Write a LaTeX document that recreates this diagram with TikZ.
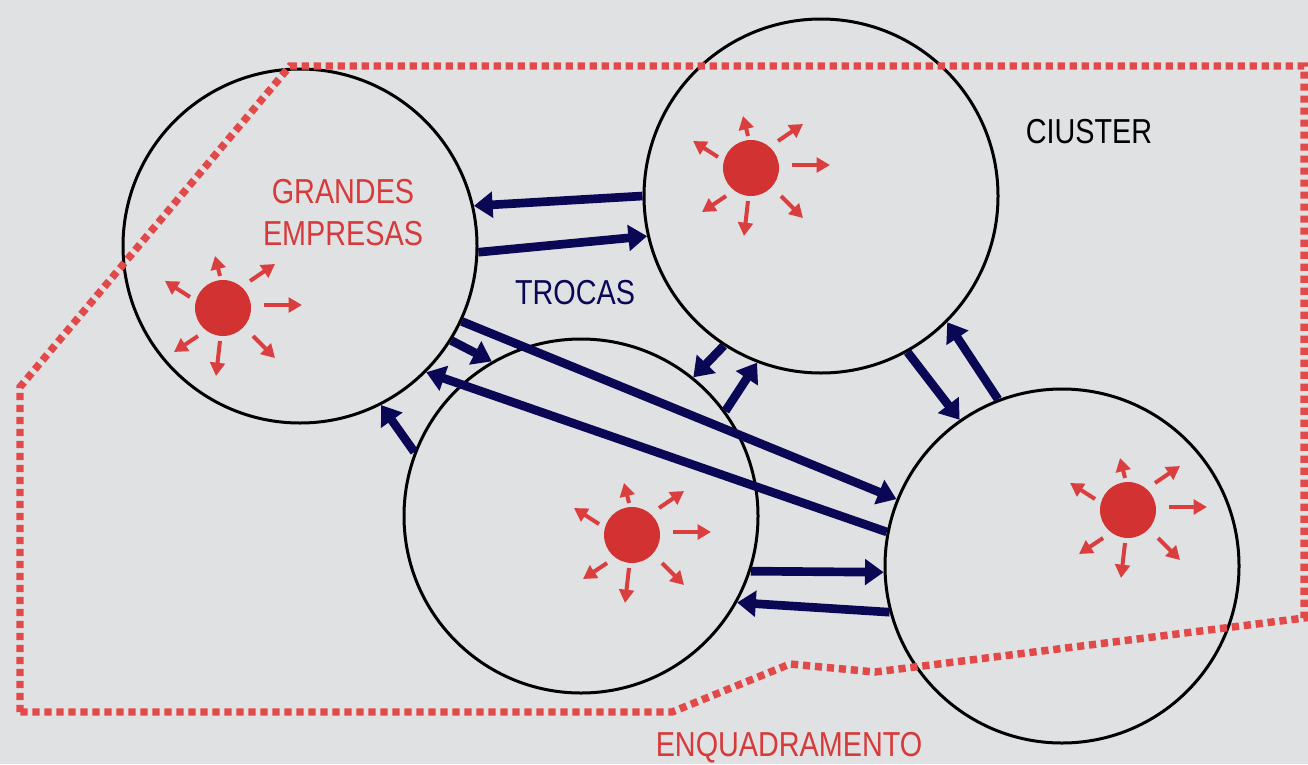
\documentclass[tikz,border=0pt]{standalone}
\usepackage{fontspec}
\usetikzlibrary{arrows.meta}
\newfontfamily\narrowsf[FakeStretch=0.83]{Liberation Sans}
\definecolor{bggray}{RGB}{224,225,227}
\definecolor{sunred}{RGB}{210,50,50}
\definecolor{sunarr}{RGB}{218,62,62}
\definecolor{dotred}{RGB}{226,74,74}
\definecolor{navy}{RGB}{10,8,85}
\definecolor{txtred}{RGB}{214,58,58}
\begin{document}
\begin{tikzpicture}[x=0.75pt,y=-0.75pt,
  bubble/.style={draw=black,line width=2.25pt,circle,minimum size=265.5pt,inner sep=0pt},
  trade/.style={draw=navy,line width=6.5pt,-{Triangle[length=14pt,width=19pt]}},
  sunarrow/.style={draw=sunarr,line width=3pt,-{Triangle[length=10pt,width=11pt]}},
  frame/.style={draw=dotred,line width=5.6pt,dash pattern=on 5.4pt off 3.6pt},
  lbl/.style={inner sep=0pt,anchor=base,font=\narrowsf\fontsize{26}{31.5}\selectfont},
  sun/.pic={
    \fill[sunred] (0,0) circle (21pt);
    \foreach \ax/\ay/\bx/\by in {41/-3/79/-3, 27/-27/52/-44, -3/-32/-8/-52, -33/-11/-58/-27, -25/28/-49/44, -3/33/-7/68, 30/28/52/50}
      \draw[sunarrow] (\ax,\ay) -- (\bx,\by);
  }]
\useasboundingbox (0,0) rectangle (1308,764);
\fill[bggray] (0,0) rectangle (1308,764);

% circles
\node[bubble] (A) at (300,246) {};
\node[bubble] (B) at (821,196) {};
\node[bubble] (C) at (581,516) {};
\node[bubble] (D) at (1062,566) {};

% dotted frame
\draw[frame] (20,712) -- (20,387) -- (290,66) -- (1304,66) -- (1304,618) -- (875,672) -- (790,664) -- (672,712) -- cycle;

% suns
\pic (sunA) at (223,308) {sun};
\pic (sunB) at (751,168) {sun};
\pic (sunC) at (632,535) {sun};
\pic (sunD) at (1128,510) {sun};

% trade arrows
\draw[trade] (B.180) -- (A.13.8);
\draw[trade] (A.-2.2) -- (B.193);
\draw[trade] (B.237.6) -- (C.51.1);
\draw[trade] (C.36.9) -- (B.249.3);
\draw[trade] (B.-61.6) -- (D.125.7);
\draw[trade] (D.111) -- (B.-45.9);
\draw[trade] (A.-25.4) -- (D.158.7);
\draw[trade] (D.169) -- (A.-45);
\draw[trade] (A.-32.1) -- (C.120.2);
\draw[trade] (C.159.3) -- (A.-63.9);
\draw[trade] (C.-18.7) -- (D.182.2);
\draw[trade] (D.195.3) -- (C.-29.7);

% labels
\node[lbl,text=txtred] (g1) at (343,203) {GRANDES};
\node[lbl,text=txtred] (g2) at (343,245) {EMPRESAS};
\node[lbl,text=navy] (tr) at (575,304) {TROCAS};
\node[lbl,text=black] (cl) at (1089,143) {CIUSTER};
\node[lbl,text=txtred] (en) at (789,756) {ENQUADRAMENTO};
\end{tikzpicture}
\end{document}
